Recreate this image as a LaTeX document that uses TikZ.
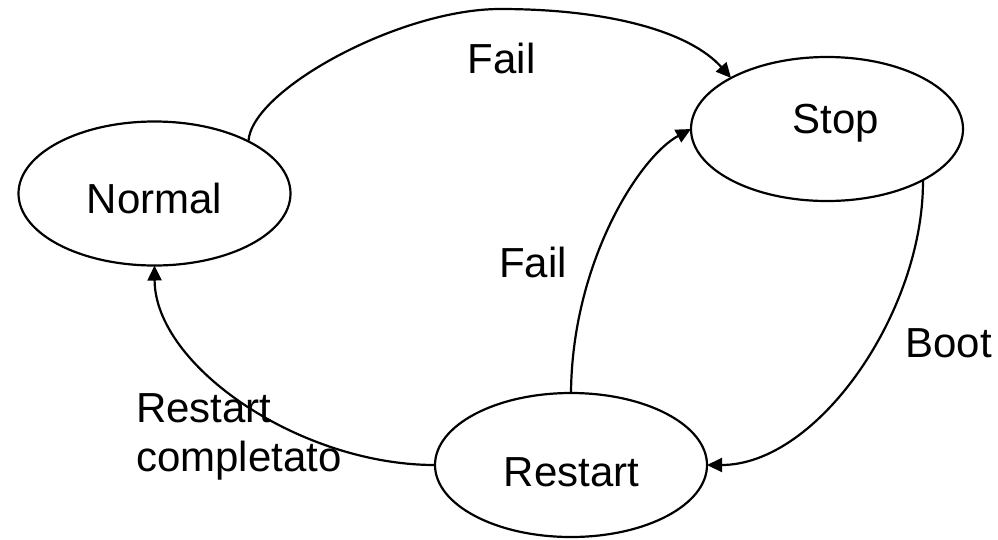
\documentclass[tikz,border=0pt]{standalone}
\usepackage{fontspec}
\setmainfont{Liberation Sans}
\usetikzlibrary{arrows.meta,shapes.geometric}
\tikzset{
  statebox/.style={ellipse, draw=black, line width=2.2pt, minimum width=272pt, minimum height=144pt, inner sep=0pt, outer sep=0pt},
  txt/.style={inner sep=0pt, outer sep=0pt, font=\fontsize{42}{49}\selectfont},
  edge/.style={draw=black, line width=2.2pt, -{Triangle[length=15pt,width=14pt]}}
}
\begin{document}
\begin{tikzpicture}[x=1pt,y=-1pt]
\useasboundingbox (0,0) rectangle (998,539);
% states
\node[statebox] (normal) at (154.5,193.5) {};
\node[statebox] (stop) at (827,129) {};
\node[statebox] (restart) at (571,465) {};
% state texts
\node[txt, anchor=base] (normaltxt) at (154.5,213) {Normal};
\node[txt, anchor=base] (stoptxt) at (835.5,133) {Stop};
\node[txt, anchor=base] (restarttxt) at (571.5,486) {Restart};
% transitions
\draw[edge] (normal.29) .. controls (251,90) and (400,9) .. (500,9) .. controls (610,9) and (690,32) .. (stop.152);
\draw[edge] (restart.north) .. controls (572,263) and (639,157) .. (stop.west);
\draw[edge] (stop.-28) .. controls (924,311) and (818,465) .. (restart.east);
\draw[edge] (restart.west) .. controls (300,465) and (155,366) .. (normal.south);
% transition labels
\node[txt, anchor=base] (fail1) at (501.5,73) {Fail};
\node[txt, anchor=base] (fail2) at (533,277) {Fail};
\node[txt, anchor=base] (boot) at (948.5,357) {Boot};
\node[txt, anchor=base west] (rcomp) at (136,422) {\begin{tabular}[t]{@{}l@{}}Restart\\completato\end{tabular}};
\end{tikzpicture}
\end{document}
